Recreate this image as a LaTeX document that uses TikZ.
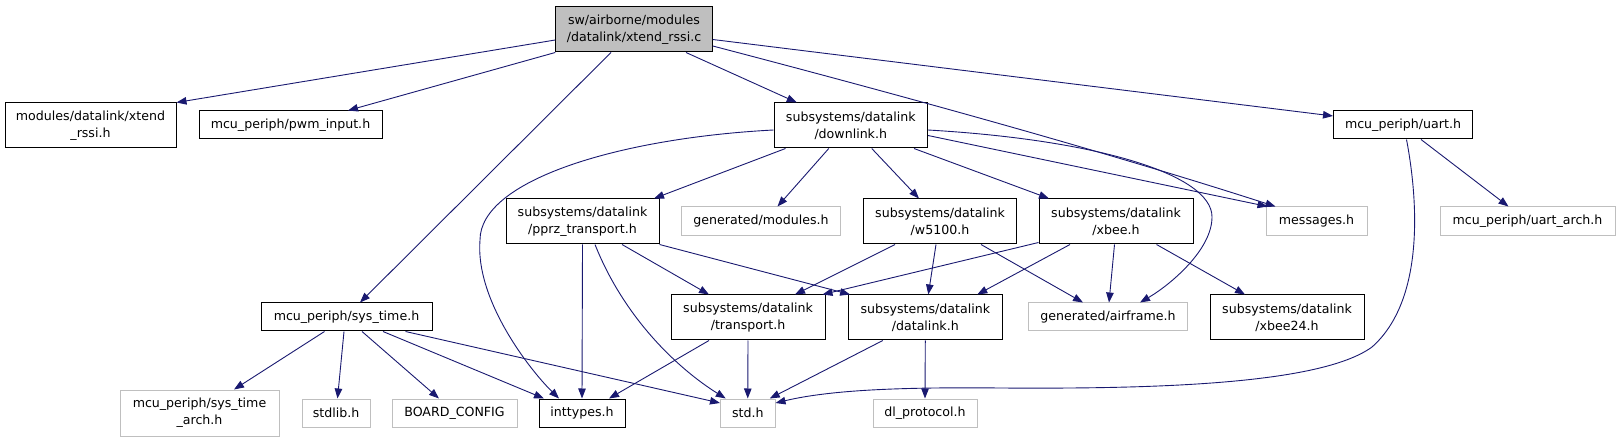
\documentclass[tikz,border=0pt]{standalone}
\usepackage{fontspec}
\setmainfont{DejaVu Sans}
\usetikzlibrary{arrows.meta}
\definecolor{edgeBlue}{HTML}{191970}
\definecolor{boxGray}{HTML}{BFBFBF}

\begin{document}
\begin{tikzpicture}[x=1pt,y=-1pt,
    fileBox/.style={draw=black,line width=1pt,inner sep=0pt,align=center,
      font=\fontsize{12.6}{17}\selectfont},
    grayBox/.style={fileBox,draw=boxGray},
    incl/.style={draw=edgeBlue,line width=0.9pt,-{Triangle[length=10pt,width=7.5pt]}}]
        \useasboundingbox (0,0) rectangle (1619,443);
        % files
        \node[fileBox,fill=boxGray,minimum width=156.5pt,minimum height=45pt] (xtendRssiC) at (634,29.5){sw/airborne/modules\\/datalink/xtend\_rssi.c};
        \node[fileBox,minimum width=171pt,minimum height=45pt] (xtendRssiH) at (90.5,125.5){modules/datalink/xtend\\\_rssi.h};
        \node[fileBox,minimum width=183pt,minimum height=28pt] (pwmInput) at (290.5,125){mcu\_periph/pwm\_input.h};
        \node[fileBox,minimum width=153.5pt,minimum height=45pt] (downlink) at (850.75,125.5){subsystems/datalink\\/downlink.h};
        \node[fileBox,minimum width=139pt,minimum height=28pt] (uart) at (1403,125){mcu\_periph/uart.h};
        \node[fileBox,minimum width=153pt,minimum height=45pt] (pprzTransport) at (582.5,221.5){subsystems/datalink\\/pprz\_transport.h};
        \node[grayBox,minimum width=159pt,minimum height=29pt] (genModules) at (761,221.5){generated/modules.h};
        \node[fileBox,minimum width=153.6pt,minimum height=45pt] (w5100) at (940,221.5){subsystems/datalink\\/w5100.h};
        \node[fileBox,minimum width=154pt,minimum height=45pt] (xbee) at (1116,221.5){subsystems/datalink\\/xbee.h};
        \node[grayBox,minimum width=101pt,minimum height=29pt] (messages) at (1316.5,221.5){messages.h};
        \node[grayBox,minimum width=175pt,minimum height=29pt] (uartArch) at (1527.5,221.5){mcu\_periph/uart\_arch.h};
        \node[fileBox,minimum width=171pt,minimum height=28pt] (sysTime) at (346.5,317){mcu\_periph/sys\_time.h};
        \node[fileBox,minimum width=154pt,minimum height=45pt] (transport) at (748,317.5){subsystems/datalink\\/transport.h};
        \node[fileBox,minimum width=153.4pt,minimum height=45pt] (datalink) at (925.3,317.5){subsystems/datalink\\/datalink.h};
        \node[grayBox,minimum width=159pt,minimum height=28pt] (genAirframe) at (1108,317){generated/airframe.h};
        \node[fileBox,minimum width=154pt,minimum height=45pt] (xbee24) at (1287,317.5){subsystems/datalink\\/xbee24.h};
        \node[grayBox,minimum width=159pt,minimum height=46pt] (sysTimeArch) at (199.5,413){mcu\_periph/sys\_time\\\_arch.h};
        \node[grayBox,minimum width=68pt,minimum height=28pt] (stdlib) at (336,413){stdlib.h};
        \node[grayBox,minimum width=125pt,minimum height=28pt] (boardConfig) at (454.5,413){BOARD\_CONFIG};
        \node[fileBox,minimum width=86pt,minimum height=28pt] (inttypes) at (582,413){inttypes.h};
        \node[grayBox,minimum width=54.5pt,minimum height=28pt] (std) at (747.75,413){std.h};
        \node[grayBox,minimum width=104pt,minimum height=28pt] (dlProtocol) at (925,413){dl\_protocol.h};
        % includes of xtend_rssi.c
        \draw[incl] ([yshift=-10.5pt]xtendRssiC.west) -- (xtendRssiH.north east);
        \draw[incl] (xtendRssiC.south west) -- ([xshift=57.5pt]pwmInput.north);
        \draw[incl] ([xshift=-23pt]xtendRssiC.south) -- ([xshift=13.5pt]sysTime.north);
        \draw[incl] ([xshift=52pt]xtendRssiC.south) -- ([xshift=-54pt]downlink.north);
        \draw[incl] ([yshift=-16.5pt]xtendRssiC.east) .. controls (900,95) and (1100,150) .. ([xshift=10pt]messages.north west);
        \draw[incl] ([yshift=-10pt]xtendRssiC.east) -- ([yshift=9pt]uart.west);
        % includes of downlink.h
        \draw[incl] ([yshift=-4.5pt]downlink.west) .. controls (620,138) and (480,180) .. (480,240) .. controls (475,300) and (530,370) .. ([xshift=-23pt]inttypes.north);
        \draw[incl] ([xshift=12pt]downlink.south west) -- ([xshift=-5.5pt]pprzTransport.north east);
        \draw[incl] ([xshift=-22pt]downlink.south) -- ([xshift=16.5pt]genModules.north);
        \draw[incl] ([xshift=21pt]downlink.south) -- ([xshift=-21pt]w5100.north);
        \draw[incl] ([xshift=-14pt]downlink.south east) -- ([xshift=10.5pt]xbee.north west);
        \draw[incl] ([yshift=-10pt]downlink.east) -- ([xshift=2pt]messages.north west);
        \draw[incl] ([yshift=-4.5pt]downlink.east) .. controls (1100,140) and (1212,175) .. (1212,217) .. controls (1212,250) and (1170,285) .. ([xshift=32pt]genAirframe.north);
        % includes of uart.h
        \draw[incl] ([xshift=18pt]uart.south) -- ([xshift=-19pt]uartArch.north);
        \draw[incl] ([xshift=3.5pt]uart.south) .. controls (1418,200) and (1425,300) .. (1372,347) .. controls (1320,385) and (1150,389) .. (1000,388) .. controls (900,387) and (830,390) .. ([yshift=10pt]std.east);
        % includes of pprz_transport.h
        \draw[incl] (pprzTransport.south) -- (inttypes.north);
        \draw[incl] ([xshift=12.5pt]pprzTransport.south) .. controls (625,320) and (680,370) .. ([xshift=-22pt]std.north);
        \draw[incl] ([xshift=39.5pt]pprzTransport.south) -- ([xshift=-39pt]transport.north);
        \draw[incl] (pprzTransport.south east) -- ([xshift=2pt]datalink.north west);
        % includes of w5100.h
        \draw[incl] ([xshift=-45pt]w5100.south) -- ([xshift=47pt]transport.north);
        \draw[incl] ([xshift=-4pt]w5100.south) -- ([xshift=3pt]datalink.north);
        \draw[incl] ([xshift=41pt]w5100.south) -- ([xshift=-25pt]genAirframe.north);
        % includes of xbee.h
        \draw[incl] ([yshift=2pt]xbee.south west) -- ([xshift=-3pt]transport.north east);
        \draw[incl] ([xshift=-46pt]xbee.south) -- ([xshift=52pt]datalink.north);
        \draw[incl] ([xshift=-1.5pt]xbee.south) -- ([xshift=1pt]genAirframe.north);
        \draw[incl] ([xshift=40.5pt]xbee.south) -- ([xshift=-42pt]xbee24.north);
        % includes of sys_time.h
        \draw[incl] ([xshift=-22pt]sysTime.south) -- ([xshift=34.5pt]sysTimeArch.north);
        \draw[incl] ([xshift=-2.5pt]sysTime.south) -- ([xshift=1.5pt]stdlib.north);
        \draw[incl] ([xshift=15.5pt]sysTime.south) -- ([xshift=-15.5pt]boardConfig.north);
        \draw[incl] ([xshift=36.5pt]sysTime.south) -- ([xshift=-38pt]inttypes.north);
        \draw[incl] ([xshift=59pt]sysTime.south) -- ([yshift=10pt]std.west);
        % includes of transport.h and datalink.h
        \draw[incl] ([xshift=-39pt]transport.south) -- ([xshift=27pt]inttypes.north);
        \draw[incl] (transport.south) -- (std.north);
        \draw[incl] ([xshift=-42.5pt]datalink.south) -- ([xshift=22pt]std.north);
        \draw[incl] (datalink.south) -- (dlProtocol.north);
      \end{tikzpicture}
\end{document}
